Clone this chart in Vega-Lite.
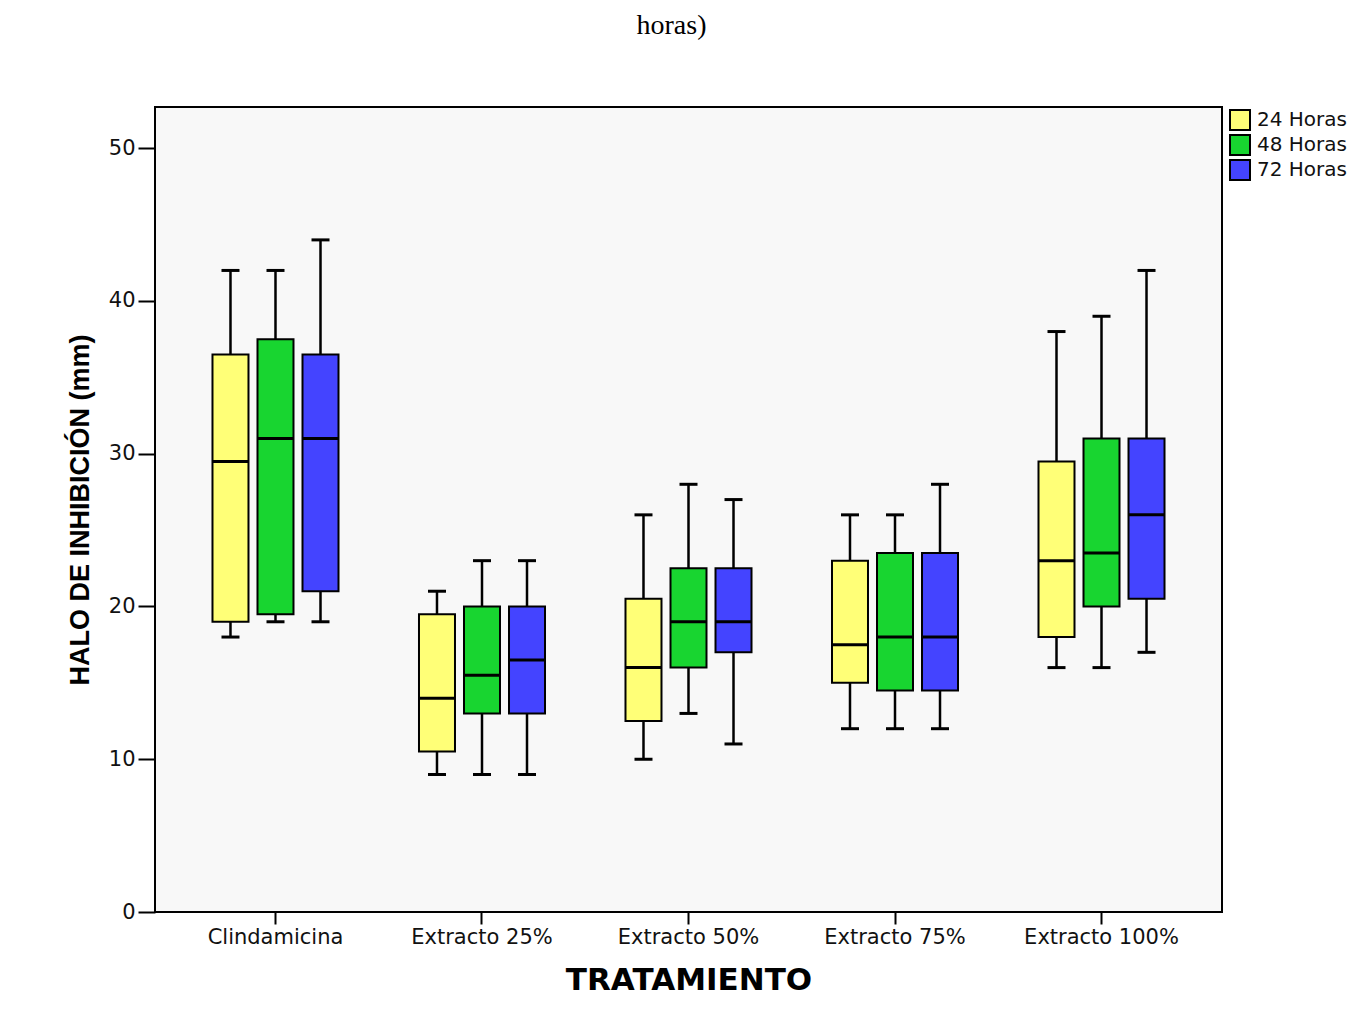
{
  "$schema": "https://vega.github.io/schema/vega-lite/v6.json",
  "autosize": {"type": "none"},
  "width": 1067,
  "height": 805,
  "padding": {"left": 155, "top": 107, "right": 150, "bottom": 107},
  "background": "white",
  "title": {"text": "horas)", "font": "Liberation Serif", "fontSize": 28, "fontWeight": "normal", "color": "black", "anchor": "middle", "dx": -17, "offset": 67},
  "config": {
    "view": {"fill": "#f8f8f8", "stroke": "black", "strokeWidth": 2},
    "axis": {"labelFont": "DejaVu Sans", "labelFontSize": 21, "labelColor": "#111", "tickColor": "black", "tickWidth": 2, "domain": false, "grid": false, "titleColor": "black"}
  },
  "data": {"values": [
    {"trat": "Clindamicina", "hora": "24 Horas", "min": 18, "q1": 19, "med": 29.5, "q3": 36.5, "max": 42},
    {"trat": "Clindamicina", "hora": "48 Horas", "min": 19, "q1": 19.5, "med": 31, "q3": 37.5, "max": 42},
    {"trat": "Clindamicina", "hora": "72 Horas", "min": 19, "q1": 21, "med": 31, "q3": 36.5, "max": 44},
    {"trat": "Extracto 25%", "hora": "24 Horas", "min": 9, "q1": 10.5, "med": 14, "q3": 19.5, "max": 21},
    {"trat": "Extracto 25%", "hora": "48 Horas", "min": 9, "q1": 13, "med": 15.5, "q3": 20, "max": 23},
    {"trat": "Extracto 25%", "hora": "72 Horas", "min": 9, "q1": 13, "med": 16.5, "q3": 20, "max": 23},
    {"trat": "Extracto 50%", "hora": "24 Horas", "min": 10, "q1": 12.5, "med": 16, "q3": 20.5, "max": 26},
    {"trat": "Extracto 50%", "hora": "48 Horas", "min": 13, "q1": 16, "med": 19, "q3": 22.5, "max": 28},
    {"trat": "Extracto 50%", "hora": "72 Horas", "min": 11, "q1": 17, "med": 19, "q3": 22.5, "max": 27},
    {"trat": "Extracto 75%", "hora": "24 Horas", "min": 12, "q1": 15, "med": 17.5, "q3": 23, "max": 26},
    {"trat": "Extracto 75%", "hora": "48 Horas", "min": 12, "q1": 14.5, "med": 18, "q3": 23.5, "max": 26},
    {"trat": "Extracto 75%", "hora": "72 Horas", "min": 12, "q1": 14.5, "med": 18, "q3": 23.5, "max": 28},
    {"trat": "Extracto 100%", "hora": "24 Horas", "min": 16, "q1": 18, "med": 23, "q3": 29.5, "max": 38},
    {"trat": "Extracto 100%", "hora": "48 Horas", "min": 16, "q1": 20, "med": 23.5, "q3": 31, "max": 39},
    {"trat": "Extracto 100%", "hora": "72 Horas", "min": 17, "q1": 20.5, "med": 26, "q3": 31, "max": 42}
  ]},
  "encoding": {
    "x": {"field": "trat", "type": "nominal", "sort": null,
      "scale": {"paddingInner": 0, "paddingOuter": 0.0835},
      "axis": {"labelAngle": 0, "tickSize": 12, "labelPadding": 2, "title": "TRATAMIENTO", "titleFont": "DejaVu Sans", "titleFontSize": 31, "titleFontWeight": "bold", "titlePadding": 18}},
    "xOffset": {"field": "hora", "type": "nominal", "sort": null, "scale": {"paddingInner": 0.2, "paddingOuter": 0.894}}
  },
  "layer": [
    {"mark": {"type": "rule", "color": "black", "strokeWidth": 2.5},
     "encoding": {
       "y": {"field": "min", "type": "quantitative", "scale": {"domain": [0, 52.7], "nice": false, "zero": true},
         "axis": {"values": [0, 10, 20, 30, 40, 50], "tickSize": 17, "labelPadding": 3, "title": "HALO DE INHIBICIÓN (mm)", "titleFont": "Liberation Sans", "titleFontSize": 27, "titleFontWeight": "bold", "titlePadding": 14}},
       "y2": {"field": "max"}
     }},
    {"mark": {"type": "bar", "stroke": "black", "strokeWidth": 2, "width": 36, "opacity": 1},
     "encoding": {
       "y": {"field": "q1", "type": "quantitative"},
       "y2": {"field": "q3"},
       "color": {"field": "hora", "type": "nominal", "sort": null,
         "scale": {"domain": ["24 Horas", "48 Horas", "72 Horas"], "range": ["#ffff77", "#18d530", "#4444ff"]},
         "legend": {"title": null, "orient": "right", "offset": 5, "padding": 2, "symbolType": "square", "symbolSize": 400, "symbolStrokeColor": "black", "symbolStrokeWidth": 2, "symbolOpacity": 1, "labelFont": "DejaVu Sans", "labelFontSize": 20, "labelColor": "#111", "rowPadding": -5, "labelOffset": 6}}
     }},
    {"mark": {"type": "tick", "color": "black", "size": 36, "thickness": 3, "opacity": 1},
     "encoding": {"y": {"field": "med", "type": "quantitative"}}},
    {"mark": {"type": "tick", "color": "black", "size": 18, "thickness": 3, "opacity": 1},
     "encoding": {"y": {"field": "min", "type": "quantitative"}}},
    {"mark": {"type": "tick", "color": "black", "size": 18, "thickness": 3, "opacity": 1},
     "encoding": {"y": {"field": "max", "type": "quantitative"}}}
  ]
}
